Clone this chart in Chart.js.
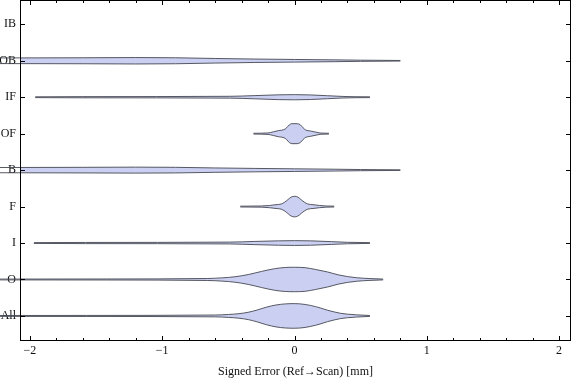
<!DOCTYPE html>
<html>
<head>
<meta charset="utf-8">
<script src="https://cdn.jsdelivr.net/npm/chart.js@4.4.1/dist/chart.umd.min.js"></script>
<style>
  html, body { margin: 0; padding: 0; background: #fff; }
  #wrap { width: 576px; height: 381px; }
</style>
</head>
<body>
<div id="wrap"><canvas id="chart" width="576" height="381"></canvas></div>
<script>
// categories bottom -> top (y = 1 .. 9)
const categories = ['All', 'O', 'I', 'F', 'B', 'OF', 'IF', 'OB', 'IB'];
const xTicks = [-2, -1, 0, 1, 2];

// violin profiles: [signed error (mm), half width (category units)]
const violinAll = [[-2.3, .012], [-1.57, .014], [-0.6, .025], [-0.5, .04], [-0.42, .062], [-0.35, .1], [-0.28, .165], [-0.21, .243], [-0.14, .3], [-0.07, .33], [0, .338], [0.08, .315], [0.16, .255], [0.2, .214], [0.25, .156], [0.3, .11], [0.35, .071], [0.4, .049], [0.47, .03], [0.57, .012]];
const violinO = [[-2.3, .011], [-1.42, .014], [-0.66, .027], [-0.55, .044], [-0.45, .075], [-0.35, .135], [-0.25, .22], [-0.15, .296], [-0.07, .329], [0, .335], [0.08, .324], [0.16, .274], [0.25, .206], [0.33, .128], [0.4, .08], [0.47, .048], [0.57, .025], [0.67, .011]];
const violinI = [[-1.97, .011], [-1.58, .016], [-0.49, .025], [-0.3, .044], [-0.12, .06], [0, .066], [0.12, .06], [0.28, .038], [0.4, .02], [0.57, .011]];
const violinF = [[-0.41, .011], [-0.25, .016], [-0.19, .03], [-0.14, .052], [-0.1, .071], [-0.075, .12], [-0.05, .19], [-0.025, .26], [0, .282], [0.025, .26], [0.05, .19], [0.075, .12], [0.1, .071], [0.14, .052], [0.19, .03], [0.24, .016], [0.3, .011]];
const violinB = [[-2.3, .071], [-1.6, .077], [-1.2, .082], [-0.9, .077], [-0.6, .06], [-0.3, .047], [0, .036], [0.3, .025], [0.5, .016], [0.8, .008]];
const violinOF = [[-0.31, .011], [-0.2, .02], [-0.16, .05], [-0.12, .085], [-0.08, .11], [-0.06, .16], [-0.04, .24], [-0.02, .274], [0.02, .274], [0.045, .24], [0.065, .16], [0.085, .1], [0.12, .074], [0.17, .035], [0.2, .016], [0.26, .011]];
const violinIF = [[-1.96, .011], [-1.6, .016], [-0.49, .025], [-0.3, .044], [-0.12, .066], [0, .071], [0.12, .063], [0.25, .041], [0.36, .022], [0.45, .014], [0.57, .011]];
const violinOB = [[-2.3, .077], [-1.6, .082], [-1.2, .088], [-0.9, .082], [-0.6, .063], [-0.3, .047], [0, .036], [0.3, .025], [0.5, .016], [0.8, .008]];
const violinIB = [];

const profiles = [violinAll, violinO, violinI, violinF, violinB, violinOF, violinIF, violinOB, violinIB];

const FILL = '#cbd0f2';
const EDGE = 'rgba(70,72,82,0.9)';
const FONT = "'Liberation Serif', 'DejaVu Serif', serif";

const datasets = [];
profiles.forEach((prof, i) => {
  if (!prof.length) return;
  const c = i + 1;
  const base = {
    showLine: true, pointRadius: 0, borderWidth: 1, borderColor: EDGE,
    cubicInterpolationMode: 'monotone', clip: false, backgroundColor: FILL
  };
  datasets.push(Object.assign({}, base, { data: prof.map(p => ({ x: p[0], y: c + p[1] })), fill: false }));
  datasets.push(Object.assign({}, base, { data: prof.map(p => ({ x: p[0], y: c - p[1] })), fill: '-1' }));
});

// frame + inward ticks, Mathematica style
const framePlugin = {
  id: 'frame',
  afterDraw(chart) {
    const { ctx, chartArea: a, scales: { x, y } } = chart;
    ctx.save();
    ctx.strokeStyle = '#000';
    ctx.lineWidth = 1;
    const L = a.left + 0.5, R = a.right - 0.5, T = a.top + 0.5, B = a.bottom + 0.5;
    ctx.strokeRect(L, T, R - L, B - T);
    ctx.beginPath();
    for (let k = -20; k <= 20; k += 2) {
      const v = k / 10;
      const px = Math.round(x.getPixelForValue(v)) + 0.5;
      if (px < a.left || px > a.right) continue;
      const len = (k % 10 === 0) ? 4.5 : 2.5;
      ctx.moveTo(px, B); ctx.lineTo(px, B - len);
      ctx.moveTo(px, T); ctx.lineTo(px, T + len);
    }
    categories.forEach((c, i) => {
      const py = Math.round(y.getPixelForValue(i + 1)) + 0.5;
      ctx.moveTo(L, py); ctx.lineTo(L + 4.5, py);
      ctx.moveTo(R, py); ctx.lineTo(R - 4.5, py);
    });
    ctx.stroke();
    ctx.restore();
  }
};

new Chart(document.getElementById('chart'), {
  type: 'scatter',
  data: { datasets },
  options: {
    responsive: false,
    animation: false,
    layout: { padding: { top: 0, right: 5, left: 0, bottom: 0 } },
    plugins: { legend: { display: false }, tooltip: { enabled: false } },
    scales: {
      x: {
        type: 'linear', min: -2.075, max: 2.09,
        grid: { display: false, drawTicks: false },
        border: { display: false },
        afterBuildTicks: s => { s.ticks = xTicks.map(v => ({ value: v })); },
        afterFit: s => { s.height = 41; s.paddingLeft = 0; s.paddingRight = 0; },
        ticks: {
          padding: 4, color: '#111', maxRotation: 0,
          font: { family: FONT, size: 12 },
          callback: v => (v < 0 ? '\u2212' + Math.abs(v) : String(v))
        },
        title: {
          display: true, text: 'Signed Error (Ref\u2192Scan) [mm]', color: '#111',
          font: { family: FONT, size: 12 }, padding: { top: 0, bottom: 2 }
        }
      },
      y: {
        type: 'linear', min: 0.34, max: 9.667,
        grid: { display: false, drawTicks: false },
        border: { display: false },
        afterBuildTicks: s => { s.ticks = categories.map((c, i) => ({ value: i + 1 })); },
        afterFit: s => { s.width = 20; s.paddingTop = 0; s.paddingBottom = 0; },
        ticks: {
          padding: 4, color: '#111',
          font: { family: FONT, size: 12 },
          callback: v => categories[Math.round(v) - 1]
        }
      }
    }
  },
  plugins: [framePlugin]
});
</script>
</body>
</html>
